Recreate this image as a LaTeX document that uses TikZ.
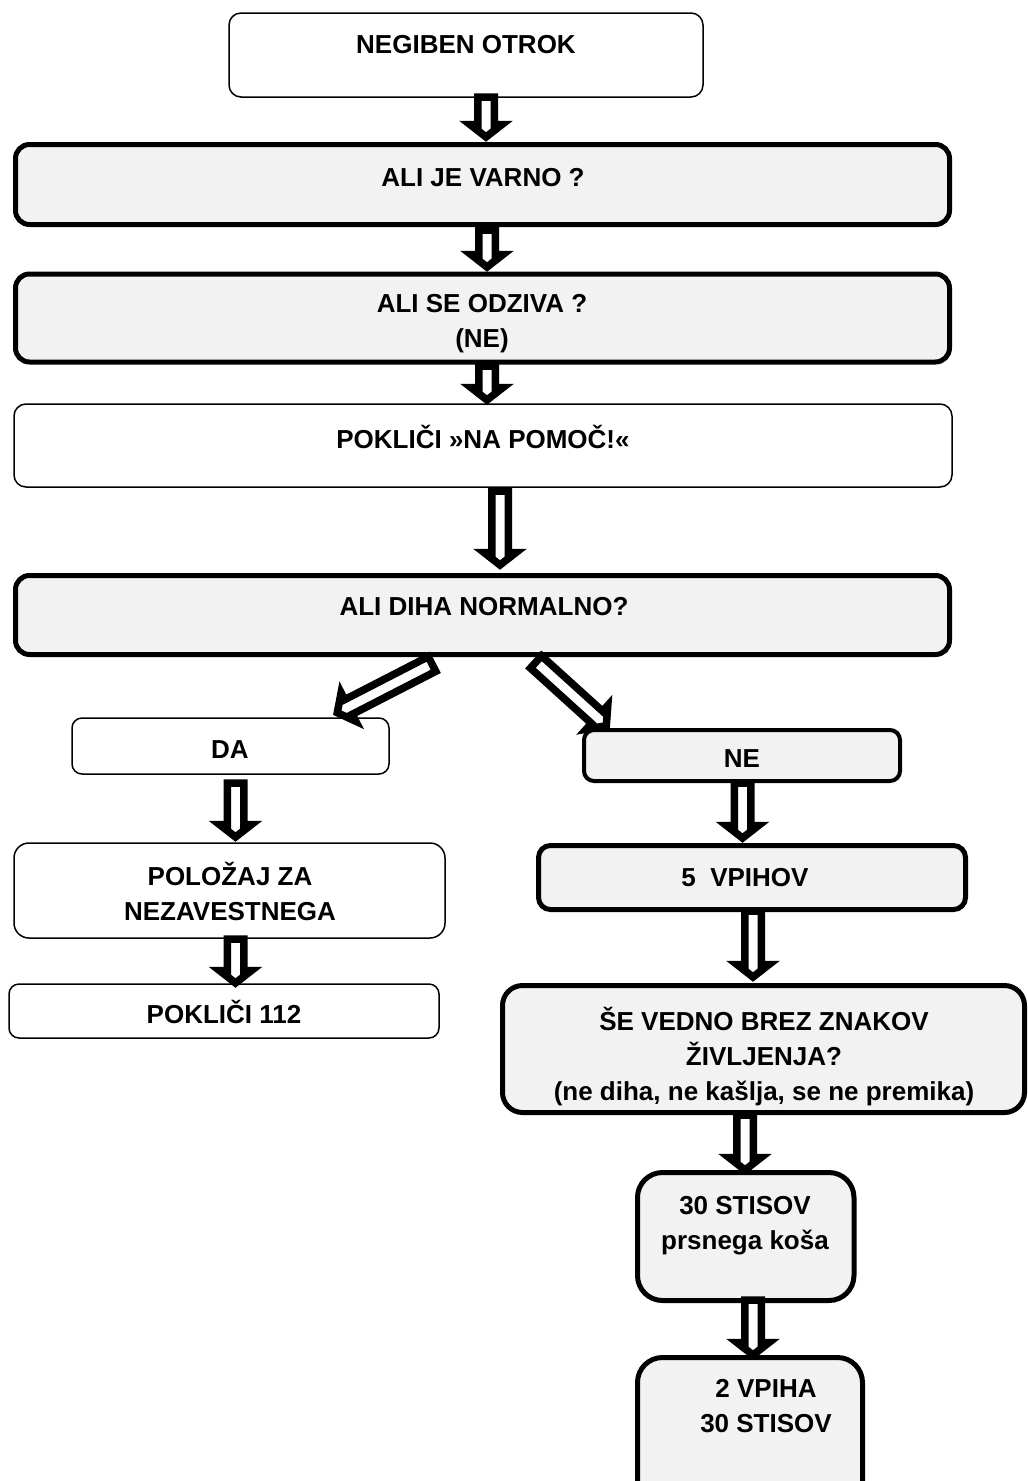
\documentclass[tikz,border=0pt]{standalone}
\usepackage{fontspec}
\setmainfont{Liberation Sans}
\usetikzlibrary{calc}
\definecolor{boxgray}{HTML}{F2F2F2}
\tikzset{
  box/.style={draw=black, rounded corners=#1, inner sep=0pt},
  thinbox/.style={box=12pt, line width=1.5pt, fill=white},
  thickbox/.style={box=14pt, line width=5pt, fill=boxgray},
  lbl/.style={font=\bfseries\fontsize{26}{35}\selectfont, align=center, inner sep=0pt},
  blockarrowstyle/.style={draw=black, fill=white, line width=7.5pt, line join=miter, miter limit=10}
}
\newcommand\blockarr[2]{%
  \draw[blockarrowstyle]
    ($(#1)!8.25pt!90:(#2)$)
    -- ($($(#2)!12.5pt!(#1)$)!8.25pt!90:(#2)$)
    -- ($($(#2)!12.5pt!(#1)$)!16pt!90:(#2)$)
    -- (#2)
    -- ($($(#2)!12.5pt!(#1)$)!16pt!-90:(#2)$)
    -- ($($(#2)!12.5pt!(#1)$)!8.25pt!-90:(#2)$)
    -- ($(#1)!8.25pt!-90:(#2)$)
    -- cycle;}
\begin{document}
\begin{tikzpicture}[x=1pt, y=-1pt]
\useasboundingbox (0,0) rectangle (1028,1481);
\clip (0,0) rectangle (1028,1481);
\fill[white] (0,0) rectangle (1028,1481);

% boxes
\node[thinbox, minimum width=474pt, minimum height=84pt] (b1) at (466,55) {};
\node[thickbox, minimum width=934pt, minimum height=80pt] (b2) at (482.5,184.5) {};
\node[thickbox, minimum width=934pt, minimum height=88pt] (b3) at (482.5,318) {};
\node[thinbox, minimum width=938pt, minimum height=83pt] (b4) at (483,445.5) {};
\node[thickbox, minimum width=934pt, minimum height=79pt] (b5) at (482.5,615) {};
\node[thinbox, box=10pt, minimum width=317pt, minimum height=56pt] (bda) at (230.5,746) {};
\node[thickbox, box=10pt, line width=4pt, minimum width=316pt, minimum height=51pt] (bne) at (742,755.5) {};
\node[thinbox, box=15pt, minimum width=431pt, minimum height=95pt] (bpol) at (229.5,890.5) {};
\node[thinbox, box=10pt, minimum width=430pt, minimum height=54pt] (b112) at (224,1011) {};
\node[thickbox, box=12pt, minimum width=427pt, minimum height=64pt] (bvp) at (752,877.5) {};
\node[thickbox, box=20pt, minimum width=522pt, minimum height=127pt] (bsev) at (763.5,1049) {};
\node[thickbox, box=25pt, minimum width=216.5pt, minimum height=128pt] (bs30) at (745.75,1236.5) {};
\node[thickbox, box=25pt, minimum width=225pt, minimum height=172.5pt] (bv2) at (750,1443.75) {};

% texts
\node[lbl] (t1) at (466,45) {NEGIBEN OTROK};
\node[lbl] (t2) at (483,178) {ALI JE VARNO ?};
\node[lbl] (t3) at (482,323.5) {ALI SE ODZIVA ?\\(NE)};
\node[lbl] (t4) at (483,437) {POKLIČI »NA POMOČ!«};
\node[lbl] (t5) at (484,607) {ALI DIHA NORMALNO?};
\node[lbl] (tda) at (230,750) {DA};
\node[lbl] (tne) at (742,759) {NE};
\node[lbl] (tpol) at (230,891) {POLOŽAJ ZA\\NEZAVESTNEGA};
\node[lbl] (t112) at (224,1012) {POKLIČI 112};
\node[lbl] (tvp) at (745,878) {5\ \ VPIHOV};
\node[lbl] (tsev) at (764,1057) {ŠE VEDNO BREZ ZNAKOV\\ŽIVLJENJA?\\(ne diha, ne kašlja, se ne premika)};
\node[lbl] (ts30) at (745,1226) {30 STISOV\\prsnega koša};
\node[lbl] (tv2) at (766,1406) {2 VPIHA\\30 STISOV};

% arrow end points
\coordinate (a1s) at (486,97);    \coordinate (a1e) at (486,137);
\coordinate (a2s) at (487,230);   \coordinate (a2e) at (487,267);
\coordinate (a3s) at (487,366);   \coordinate (a3e) at (487,400);
\coordinate (a4s) at (500,491);   \coordinate (a4e) at (500,565);
\coordinate (a5s) at (432,664);   \coordinate (a5e) at (337.3,712.7);
\coordinate (a6s) at (536,662);   \coordinate (a6e) at (606.3,725.7);
\coordinate (a7s) at (235.5,783); \coordinate (a7e) at (235.5,837);
\coordinate (a8s) at (742.5,783); \coordinate (a8e) at (742.5,838);
\coordinate (a9s) at (235.5,939); \coordinate (a9e) at (235.5,983);
\coordinate (a10s) at (753,911);  \coordinate (a10e) at (753,977);
\coordinate (a11s) at (745,1115); \coordinate (a11e) at (745,1170);
\coordinate (a12s) at (753,1300); \coordinate (a12e) at (753,1355);

\blockarr{a1s}{a1e}
\blockarr{a2s}{a2e}
\blockarr{a3s}{a3e}
\blockarr{a4s}{a4e}
\blockarr{a5s}{a5e}
\blockarr{a6s}{a6e}
\blockarr{a7s}{a7e}
\blockarr{a8s}{a8e}
\blockarr{a9s}{a9e}
\blockarr{a10s}{a10e}
\blockarr{a11s}{a11e}
\blockarr{a12s}{a12e}
\end{tikzpicture}
\end{document}
